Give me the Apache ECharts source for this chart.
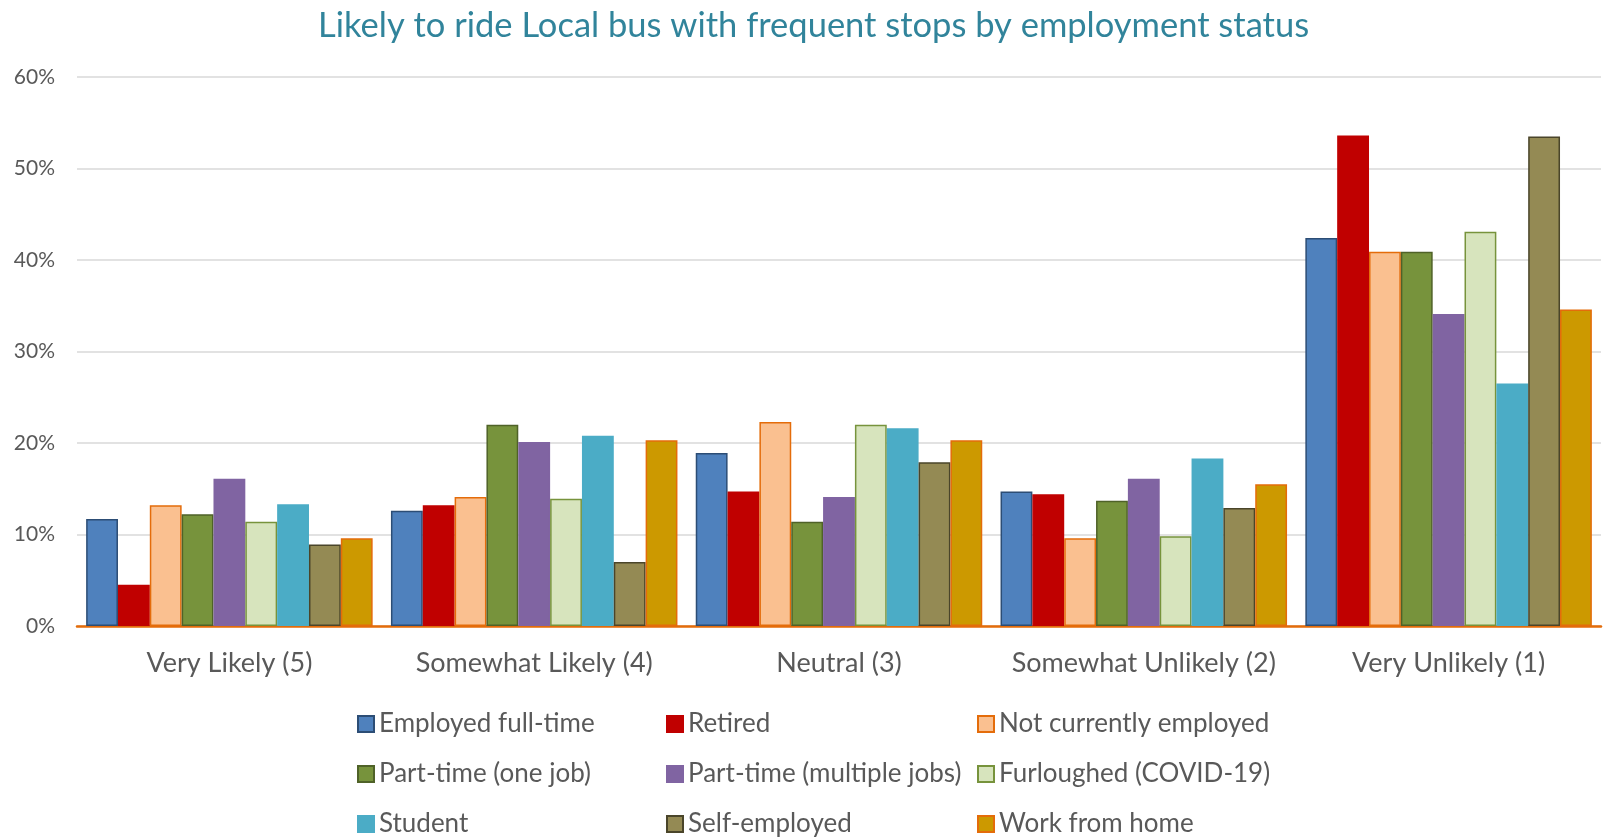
<!DOCTYPE html>
<html><head><meta charset="utf-8">
<script src="https://cdn.jsdelivr.net/npm/echarts@6/dist/echarts.min.js"></script>
<style>html,body{margin:0;padding:0;background:#fff}#c{width:1606px;height:838px}</style>
</head><body><div id="c"></div>
<script>
const categories = ['Very Likely (5)', 'Somewhat Likely (4)', 'Neutral (3)', 'Somewhat Unlikely (2)', 'Very Unlikely (1)'];
const seriesNames = ['Employed full-time', 'Retired', 'Not currently employed', 'Part-time (one job)', 'Part-time (multiple jobs)', 'Furloughed (COVID-19)', 'Student', 'Self-employed', 'Work from home'];
const employedFullTime = [11.7, 12.6, 18.9, 14.7, 42.4];
const retired = [4.5, 13.2, 14.7, 14.4, 53.6];
const notCurrentlyEmployed = [13.2, 14.1, 22.3, 9.6, 40.9];
const partTimeOneJob = [12.2, 22.0, 11.4, 13.7, 40.9];
const partTimeMultipleJobs = [16.1, 20.1, 14.1, 16.1, 34.1];
const furloughed = [11.4, 13.9, 22.0, 9.8, 43.1];
const student = [13.3, 20.8, 21.6, 18.3, 26.5];
const selfEmployed = [8.9, 7.0, 17.9, 12.9, 53.5];
const workFromHome = [9.6, 20.3, 20.3, 15.5, 34.6];
const yTicks = [0, 10, 20, 30, 40, 50, 60];

const values = [employedFullTime, retired, notCurrentlyEmployed, partTimeOneJob, partTimeMultipleJobs, furloughed, student, selfEmployed, workFromHome];
const fills = ['#4F81BD', '#C00000', '#FAC090', '#77933C', '#8064A2', '#D7E4BD', '#4BACC6', '#948A54', '#CC9900'];
const borders = ['#2C4D75', '#C00000', '#E46C0A', '#4F6228', '#8064A2', '#77933C', '#4BACC6', '#4A452A', '#E46C0A'];

const FONT = 'Lato';
const chart = echarts.init(document.getElementById('c'), null, {renderer: 'canvas'});
const series = seriesNames.map((n, i) => ({
  name: n, type: 'bar', data: values[i],
  barGap: '0%', barCategoryGap: '6%',
  itemStyle: {color: fills[i], borderColor: borders[i], borderWidth: 1.5},
  emphasis: {disabled: true}, animation: false
}));
const legendText = {color: '#595959', fontSize: 26, fontFamily: FONT};
const cols = [[0, 3, 6], [1, 4, 7], [2, 5, 8]];
const colLeft = [357, 666, 977];
const legends = cols.map((c, k) => ({
  orient: 'vertical', left: colLeft[k], top: 711, itemGap: 24,
  itemWidth: 16, itemHeight: 16, icon: 'rect',
  data: c.map(i => seriesNames[i]), textStyle: legendText, padding: 0,
  selectedMode: false
}));
chart.setOption({
  animation: false,
  title: {text: 'Likely to ride Local bus with frequent stops by employment status', left: 313, top: 3,
    textStyle: {color: '#31849B', fontSize: 34.5, fontWeight: 'normal', fontFamily: FONT}},
  grid: {left: 77, right: 5, top: 77, bottom: 212, outerBoundsMode: 'none', containLabel: false},
  legend: legends,
  xAxis: {type: 'category', data: categories,
    axisLine: {lineStyle: {color: '#E46C0A', width: 2.5}}, axisTick: {show: false},
    axisLabel: {color: '#595959', fontSize: 27, fontFamily: FONT, margin: 24, interval: 0, hideOverlap: false}},
  yAxis: {type: 'value', min: yTicks[0], max: yTicks[yTicks.length - 1], interval: 10,
    axisLine: {show: false}, axisTick: {show: false},
    splitLine: {lineStyle: {color: '#D9D9D9', width: 1.5}},
    axisLabel: {color: '#595959', fontSize: 21, fontFamily: FONT, margin: 22, formatter: '{value}%'}},
  series: series
});
</script></body></html>
